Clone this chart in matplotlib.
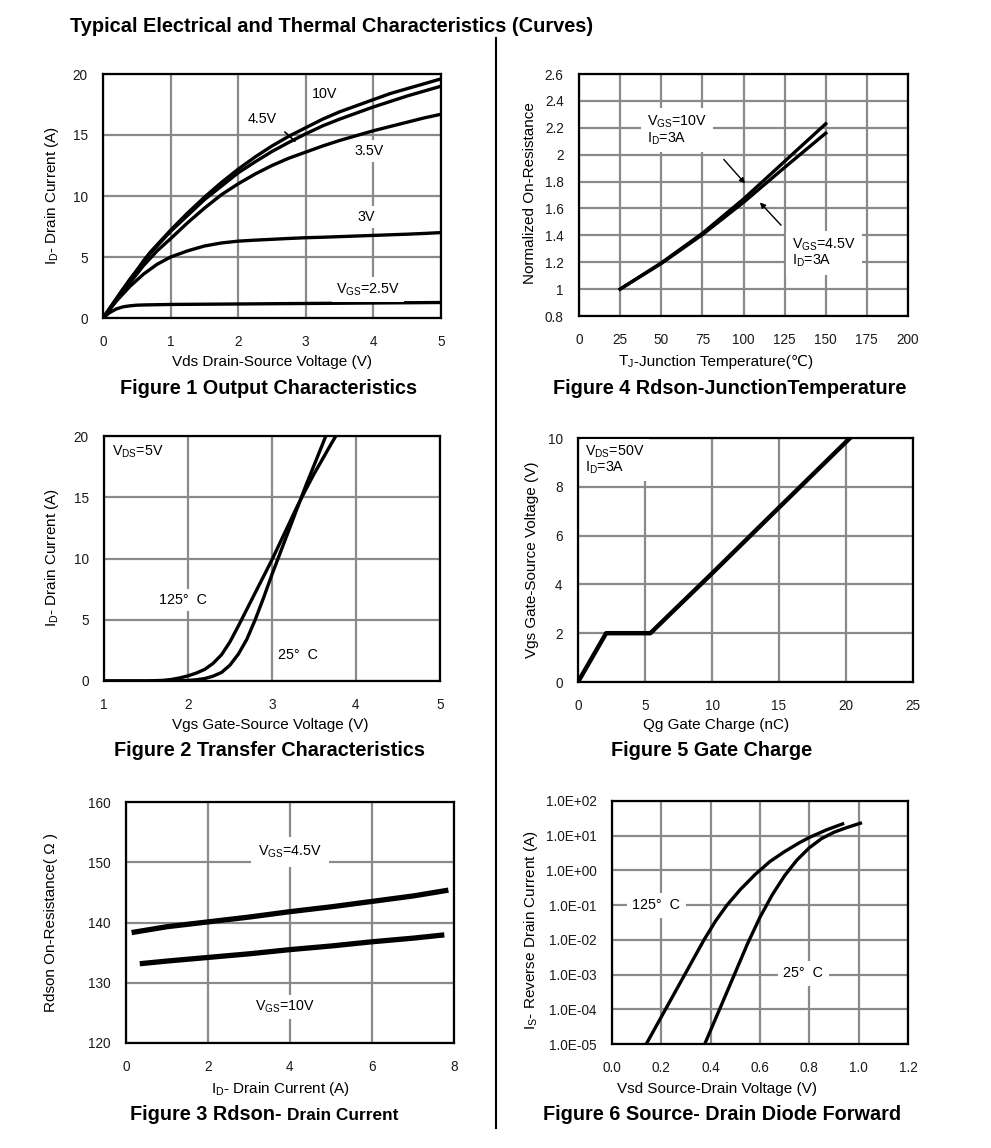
import numpy as np
import matplotlib
matplotlib.use("Agg")
import matplotlib.pyplot as plt
from matplotlib.lines import Line2D
from matplotlib.ticker import FixedLocator, FuncFormatter, NullLocator

plt.rcParams['font.family'] = ['Liberation Sans', 'DejaVu Sans']
plt.rcParams['mathtext.fontset'] = 'custom'
plt.rcParams['mathtext.rm'] = 'Liberation Sans'
plt.rcParams['mathtext.it'] = 'Liberation Sans'

# ---------------- Data ----------------
# Figure 1 Output characteristics
f1_vds = [0, 0.1, 0.2, 0.3, 0.4, 0.5, 0.6, 0.7, 0.8, 0.9, 1.0, 1.25, 1.5, 1.75, 2.0,
          2.25, 2.5, 2.75, 3.0, 3.25, 3.5, 3.75, 4.0, 4.25, 4.5, 4.75, 5.0]
f1_10v = [0, 0.8, 1.6, 2.4, 3.2, 3.9, 4.7, 5.4, 6.0, 6.6, 7.2, 8.6, 9.9, 11.1, 12.2,
          13.2, 14.1, 14.9, 15.6, 16.3, 16.9, 17.4, 17.9, 18.4, 18.8, 19.2, 19.6]
f1_45v = [0, 0.8, 1.6, 2.4, 3.1, 3.9, 4.6, 5.3, 5.9, 6.5, 7.1, 8.4, 9.7, 10.8, 11.9,
          12.8, 13.65, 14.4, 15.1, 15.75, 16.3, 16.8, 17.3, 17.75, 18.2, 18.6, 19.0]
f1_35v = [0, 0.75, 1.5, 2.2, 2.9, 3.6, 4.3, 4.9, 5.5, 6.0, 6.5, 7.8, 9.0, 10.1, 11.0,
          11.8, 12.5, 13.1, 13.6, 14.1, 14.55, 14.95, 15.35, 15.7, 16.05, 16.4, 16.7]
f1_3v = [0, 0.7, 1.4, 2.0, 2.6, 3.1, 3.6, 4.0, 4.4, 4.7, 5.0, 5.5, 5.9, 6.15, 6.3,
         6.38, 6.45, 6.52, 6.58, 6.62, 6.67, 6.72, 6.77, 6.82, 6.87, 6.93, 7.0]
f1_25v = [0, 0.45, 0.75, 0.92, 1.0, 1.05, 1.07, 1.08, 1.09, 1.1, 1.11, 1.12, 1.13, 1.14, 1.15,
          1.16, 1.17, 1.18, 1.19, 1.2, 1.21, 1.22, 1.23, 1.24, 1.25, 1.26, 1.27]

# Figure 4 Rdson vs junction temperature
f4_tj = [25, 50, 75, 100, 125, 150]
f4_10v = [1.0, 1.195, 1.415, 1.67, 1.95, 2.23]
f4_45v = [1.0, 1.19, 1.405, 1.645, 1.905, 2.16]

# Figure 2 Transfer characteristics
f2_vgs_125 = [1.0, 1.5, 1.7, 1.8, 1.9, 2.0, 2.1, 2.2, 2.3, 2.4, 2.5, 2.6, 2.7, 2.8,
              2.9, 3.0, 3.1, 3.2, 3.3, 3.4, 3.5, 3.6, 3.7, 3.76]
f2_id_125 = [0, 0.0, 0.05, 0.12, 0.25, 0.42, 0.65, 0.95, 1.45, 2.15, 3.2, 4.5, 5.85, 7.2,
             8.55, 9.9, 11.35, 12.8, 14.25, 15.6, 16.9, 18.1, 19.3, 20.0]
f2_vgs_25 = [1.0, 1.8, 2.0, 2.1, 2.2, 2.3, 2.4, 2.5, 2.6, 2.7, 2.8, 2.9, 3.0, 3.1,
             3.2, 3.3, 3.4, 3.5, 3.6, 3.64]
f2_id_25 = [0, 0.0, 0.05, 0.1, 0.2, 0.4, 0.7, 1.3, 2.2, 3.4, 5.0, 6.8, 8.7, 10.5,
            12.3, 14.1, 15.9, 17.6, 19.3, 20.0]

# Figure 5 Gate charge
f5_qg = [0, 2.1, 5.4, 10.0, 15.0, 20.3]
f5_vgs = [0, 2.0, 2.0, 4.45, 7.15, 10.0]

# Figure 3 Rdson vs drain current
f3_id_45 = [0.2, 1, 2, 3, 4, 5, 6, 7, 7.8]
f3_r_45 = [138.4, 139.3, 140.1, 140.9, 141.8, 142.6, 143.5, 144.4, 145.3]
f3_id_10 = [0.4, 1, 2, 3, 4, 5, 6, 7, 7.7]
f3_r_10 = [133.2, 133.6, 134.2, 134.8, 135.5, 136.1, 136.8, 137.4, 137.9]

# Figure 6 Source-drain diode forward
f6_vsd_125 = [0.139, 0.217, 0.295, 0.373, 0.42, 0.466, 0.52, 0.58, 0.64, 0.70, 0.76, 0.80, 0.87, 0.935]
f6_is_125 = [1e-5, 1e-4, 1e-3, 1e-2, 3.5e-2, 1e-1, 0.28, 0.76, 1.8, 3.5, 6.3, 8.9, 14.8, 21.9]
f6_vsd_25 = [0.376, 0.43, 0.49, 0.55, 0.60, 0.65, 0.70, 0.75, 0.80, 0.85, 0.90, 0.95, 1.007]
f6_is_25 = [1e-5, 7.9e-5, 7.9e-4, 7.9e-3, 4.5e-2, 0.2, 0.71, 2.0, 4.5, 8.3, 12.6, 17.0, 22.9]

# ---------------- Figure ----------------
W, H = 991, 1148
fig = plt.figure(figsize=(W / 100, H / 100), dpi=100)
renderer = fig.canvas.get_renderer()

def add_ax(x0, x1, y0, y1):
    return fig.add_axes([x0 / W, 1 - y1 / H, (x1 - x0) / W, (y1 - y0) / H])

GRID = '#8a8a8a'
TICK_FS = 9.8
ANN_FS = 10.3
LAB_FS = 11
CAP_FS = 14.3

def style(ax):
    ax.grid(True, color=GRID, lw=1.6)
    ax.set_axisbelow(True)
    for s in ax.spines.values():
        s.set_color('black')
        s.set_linewidth(1.6)
    ax.tick_params(length=0, labelsize=TICK_FS, colors='#1a1a1a')
    ax.tick_params(axis='x', pad=12)
    ax.tick_params(axis='y', pad=11)

def ftext(x, y, s, **kw):
    return fig.text(x / W, 1 - y / H, s, **kw)

def seq_text(x, y, parts, center=False):
    """Place several text pieces side by side (pixel coordinates)."""
    widths = []
    arts = []
    for s, kw in parts:
        t = ftext(0, y, s, ha='left', va='baseline', **kw)
        widths.append(t.get_window_extent(renderer).width)
        arts.append(t)
    total = sum(widths)
    cx = x - total / 2 if center else x
    for t, w in zip(arts, widths):
        t.set_x(cx / W)
        cx += w
    return arts

WB = dict(facecolor='white', edgecolor='none', pad=3)
LW = 2.4

# Title & divider
ftext(70, 26, 'Typical Electrical and Thermal Characteristics (Curves)',
      fontsize=14.4, fontweight='bold', va='center', ha='left')
fig.add_artist(Line2D([496 / W, 496 / W], [1 - 38 / H, 1 - 1128 / H], color='black', lw=1.5))

# ---- Figure 1 ----
ax1 = add_ax(103, 441, 74, 318)
style(ax1)
for y in (f1_10v, f1_45v, f1_35v, f1_3v, f1_25v):
    ax1.plot(f1_vds, y, color='black', lw=LW)
ax1.set_xlim(0, 5); ax1.set_ylim(0, 20)
ax1.set_xticks(range(0, 6)); ax1.set_yticks(range(0, 21, 5))
ax1.text(3.28, 18.35, '10V', fontsize=ANN_FS, ha='center', va='center', bbox=WB)
ax1.text(2.35, 16.3, '4.5V', fontsize=ANN_FS, ha='center', va='center', bbox=WB)
ax1.annotate('', xy=(2.87, 14.34), xytext=(2.66, 15.4),
             arrowprops=dict(arrowstyle='-', color='black', lw=1.2))
ax1.text(3.94, 13.7, '3.5V', fontsize=ANN_FS, ha='center', va='center', bbox=WB)
ax1.text(3.89, 8.3, '3V', fontsize=ANN_FS, ha='center', va='center', bbox=WB)
ax1.text(3.92, 2.35, r'V$_\mathregular{GS}$=2.5V', fontsize=ANN_FS, ha='center', va='center', bbox=WB)
ftext(272, 362, 'Vds Drain-Source Voltage (V)', fontsize=LAB_FS, ha='center', va='center')
ftext(52, 196, r'I$_\mathregular{D}$- Drain Current (A)', fontsize=LAB_FS, ha='center', va='center', rotation=90)
ftext(269, 388, 'Figure 1 Output Characteristics', fontsize=CAP_FS, fontweight='bold', ha='center', va='center')

# ---- Figure 4 ----
ax4 = add_ax(579, 908, 74, 316)
style(ax4)
ax4.plot(f4_tj, f4_10v, color='black', lw=LW)
ax4.plot(f4_tj, f4_45v, color='black', lw=LW)
ax4.set_xlim(0, 200); ax4.set_ylim(0.8, 2.6)
ax4.set_xticks(range(0, 201, 25))
ax4.set_yticks([0.8, 1.0, 1.2, 1.4, 1.6, 1.8, 2.0, 2.2, 2.4, 2.6])
ax4.yaxis.set_major_formatter(FuncFormatter(lambda v, p: f'{v:g}'))
ax4.text(41.3, 2.18, 'V$_\\mathregular{GS}$=10V\nI$_\\mathregular{D}$=3A', fontsize=ANN_FS, ha='left', va='center',
         bbox=dict(facecolor='white', edgecolor='none', pad=4), linespacing=1.0)
ax4.annotate('', xy=(102.1, 1.77), xytext=(86.9, 1.98),
             arrowprops=dict(arrowstyle='-|>', color='black', lw=1.0, mutation_scale=8))
ax4.text(129.5, 1.27, 'V$_\\mathregular{GS}$=4.5V\nI$_\\mathregular{D}$=3A', fontsize=ANN_FS, ha='left', va='center',
         bbox=dict(facecolor='white', edgecolor='none', pad=4), linespacing=1.0)
ax4.annotate('', xy=(108.8, 1.66), xytext=(124, 1.46),
             arrowprops=dict(arrowstyle='-|>', color='black', lw=1.0, mutation_scale=8))
seq_text(716, 366, [('T$_\\mathregular{J}$', dict(fontsize=LAB_FS)),
                    ('-Junction Temperature(℃)', dict(fontsize=LAB_FS))], center=True)
ftext(530, 193, 'Normalized On-Resistance', fontsize=LAB_FS, ha='center', va='center', rotation=90)
ftext(730, 388, 'Figure 4 Rdson-JunctionTemperature', fontsize=CAP_FS, fontweight='bold', ha='center', va='center')

# ---- Figure 2 ----
ax2 = add_ax(104, 440, 436, 681)
style(ax2)
ax2.plot(f2_vgs_125, f2_id_125, color='black', lw=LW)
ax2.plot(f2_vgs_25, f2_id_25, color='black', lw=LW)
ax2.set_xlim(1, 5); ax2.set_ylim(0, 20)
ax2.set_xticks(range(1, 6)); ax2.set_yticks(range(0, 21, 5))
ax2.text(1.095, 18.7, 'V$_\\mathregular{DS}$=5V', fontsize=ANN_FS, ha='left', va='center', bbox=WB)
ax2.text(1.94, 6.6, '125°  C', fontsize=ANN_FS, ha='center', va='center', bbox=WB)
ax2.text(3.31, 2.1, '25°  C', fontsize=ANN_FS, ha='center', va='center', bbox=WB)
ftext(270, 725, 'Vgs Gate-Source Voltage (V)', fontsize=LAB_FS, ha='center', va='center')
ftext(52, 558, r'I$_\mathregular{D}$- Drain Current (A)', fontsize=LAB_FS, ha='center', va='center', rotation=90)
ftext(270, 751, 'Figure 2 Transfer Characteristics', fontsize=CAP_FS, fontweight='bold', ha='center', va='center')

# ---- Figure 5 ----
ax5 = add_ax(578, 913, 438, 682)
style(ax5)
ax5.plot(f5_qg, f5_vgs, color='black', lw=3.2)
ax5.set_xlim(0, 25); ax5.set_ylim(0, 10)
ax5.set_xticks(range(0, 26, 5)); ax5.set_yticks(range(0, 11, 2))
ax5.text(0.52, 9.1, 'V$_\\mathregular{DS}$=50V\nI$_\\mathregular{D}$=3A', fontsize=ANN_FS, ha='left', va='center',
         bbox=WB, linespacing=1.0)
ftext(716, 725, 'Qg Gate Charge (nC)', fontsize=LAB_FS, ha='center', va='center')
ftext(532, 560, 'Vgs Gate-Source Voltage (V)', fontsize=LAB_FS, ha='center', va='center', rotation=90)
ftext(712, 751, 'Figure 5 Gate Charge', fontsize=CAP_FS, fontweight='bold', ha='center', va='center')

# ---- Figure 3 ----
ax3 = add_ax(126, 454, 802, 1043)
style(ax3)
ax3.plot(f3_id_45, f3_r_45, color='black', lw=3.8)
ax3.plot(f3_id_10, f3_r_10, color='black', lw=3.8)
ax3.set_xlim(0, 8); ax3.set_ylim(120, 160)
ax3.set_xticks(range(0, 9, 2)); ax3.set_yticks(range(120, 161, 10))
ax3.text(4.0, 151.7, 'V$_\\mathregular{GS}$=4.5V', fontsize=ANN_FS, ha='center', va='center',
         bbox=dict(facecolor='white', edgecolor='none', pad=5))
ax3.text(3.88, 126.0, 'V$_\\mathregular{GS}$=10V', fontsize=ANN_FS, ha='center', va='center', bbox=WB)
ftext(280, 1089, 'I$_\\mathregular{D}$- Drain Current (A)', fontsize=LAB_FS, ha='center', va='center')
ftext(51, 922, 'Rdson On-Resistance( Ω )', fontsize=LAB_FS, ha='center', va='center', rotation=90)
seq_text(130, 1120, [('Figure 3 Rdson- ', dict(fontsize=CAP_FS, fontweight='bold')),
                     ('Drain Current', dict(fontsize=12.4, fontweight='bold'))])

# ---- Figure 6 ----
ax6 = add_ax(612, 908, 801, 1044)
style(ax6)
ax6.set_yscale('log')
ax6.plot(f6_vsd_125, f6_is_125, color='black', lw=LW)
ax6.plot(f6_vsd_25, f6_is_25, color='black', lw=LW)
ax6.set_xlim(0, 1.2); ax6.set_ylim(1e-5, 1e2)
ax6.set_xticks([0, 0.2, 0.4, 0.6, 0.8, 1.0, 1.2])
ax6.xaxis.set_major_formatter(FuncFormatter(lambda v, p: f'{v:.1f}'))
ax6.yaxis.set_major_locator(FixedLocator([10.0 ** k for k in range(-5, 3)]))
ax6.yaxis.set_minor_locator(NullLocator())
ax6.yaxis.set_major_formatter(FuncFormatter(lambda v, p: f'{v:.1E}'))
ax6.text(0.18, 1e-1, '125°  C', fontsize=ANN_FS, ha='center', va='center',
         bbox=dict(facecolor='white', edgecolor='none', pad=4))
ax6.text(0.775, 1.1e-3, '25°  C', fontsize=ANN_FS, ha='center', va='center',
         bbox=dict(facecolor='white', edgecolor='none', pad=4))
ftext(717, 1089, 'Vsd Source-Drain Voltage (V)', fontsize=LAB_FS, ha='center', va='center')
ftext(531, 930, 'I$_\\mathregular{S}$- Reverse Drain Current (A)', fontsize=LAB_FS, ha='center', va='center', rotation=90)
ftext(722, 1114, 'Figure 6 Source- Drain Diode Forward', fontsize=CAP_FS, fontweight='bold', ha='center', va='center')

fig.savefig('out.png', dpi=100, facecolor='white')
